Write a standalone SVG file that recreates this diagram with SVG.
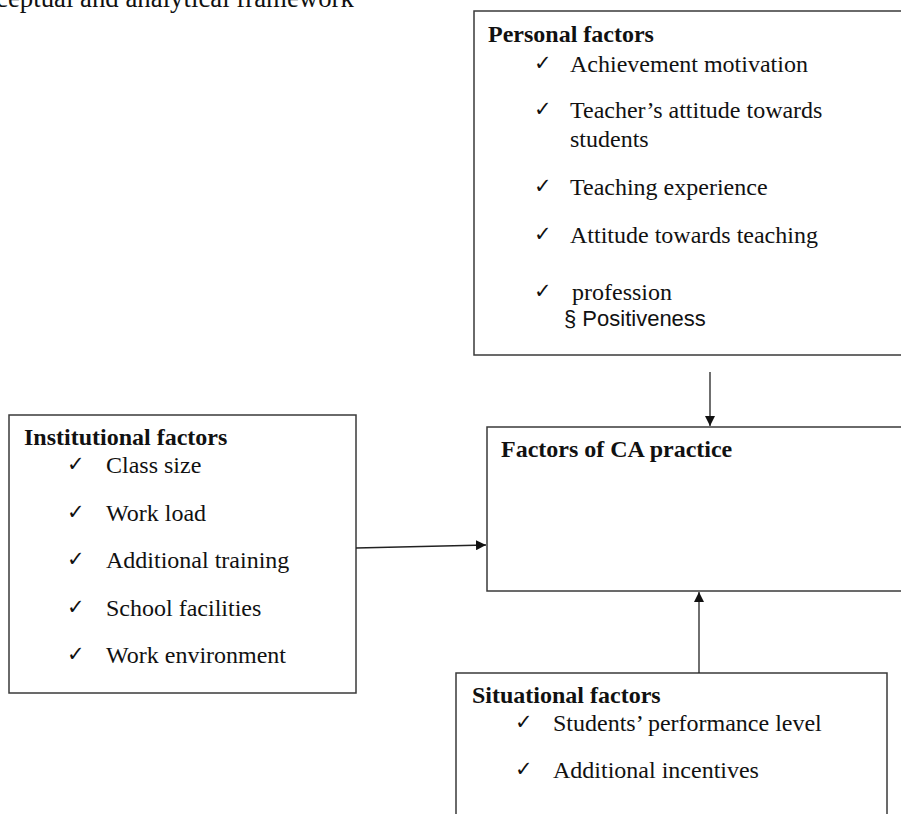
<svg xmlns="http://www.w3.org/2000/svg" width="901" height="814" viewBox="0 0 901 814">
<defs>
<marker id="arr" viewBox="0 0 10 10" refX="10" refY="5" markerWidth="10" markerHeight="10" markerUnits="userSpaceOnUse" orient="auto">
<path d="M0,0 L10,5 L0,10 z" fill="#111"/>
</marker>
<style>
.box{fill:#fff;stroke:#3a3a3a;stroke-width:1.5}
.t{font-family:"Liberation Serif","Times New Roman",serif;font-size:24px;fill:#111}
.h{font-family:"Liberation Serif","Times New Roman",serif;font-size:24px;font-weight:bold;fill:#111}
.c{font-family:"DejaVu Sans",sans-serif;font-size:21px;fill:#111}
.s{font-family:"Liberation Sans",Arial,sans-serif;font-size:22px;fill:#111}
.ln{stroke:#222;stroke-width:1.3;fill:none}
</style>
</defs>
<rect width="901" height="814" fill="#fff"/>
<text class="t" x="-4" y="7" style="font-size:26.8px">ceptual and analytical framework</text>

<g id="personal">
<rect class="box" x="474" y="11" width="440" height="344"/>
<text class="h" x="488" y="42">Personal factors</text>
<text class="c" x="534" y="70">✓</text><text class="t" x="570" y="72">Achievement motivation</text>
<text class="c" x="534" y="116">✓</text><text class="t" x="570" y="118">Teacher’s attitude towards</text>
<text class="t" x="570" y="147">students</text>
<text class="c" x="534" y="193">✓</text><text class="t" x="570" y="195">Teaching experience</text>
<text class="c" x="534" y="241">✓</text><text class="t" x="570" y="243">Attitude towards teaching</text>
<text class="c" x="534" y="298">✓</text><text class="t" x="572" y="300">profession</text>
<text class="s" x="564" y="326">§ Positiveness</text>
</g>

<g id="institutional">
<rect class="box" x="9" y="415" width="347" height="278"/>
<text class="h" x="24" y="445">Institutional factors</text>
<text class="c" x="67" y="471">✓</text><text class="t" x="106" y="473">Class size</text>
<text class="c" x="67" y="519">✓</text><text class="t" x="106" y="521">Work load</text>
<text class="c" x="67" y="566">✓</text><text class="t" x="106" y="568">Additional training</text>
<text class="c" x="67" y="614">✓</text><text class="t" x="106" y="616">School facilities</text>
<text class="c" x="67" y="661">✓</text><text class="t" x="106" y="663">Work environment</text>
</g>

<g id="ca-practice">
<rect class="box" x="487" y="427" width="430" height="164"/>
<text class="h" x="501" y="457">Factors of CA practice</text>
</g>

<g id="situational">
<rect class="box" x="456" y="673" width="431" height="160"/>
<text class="h" x="472" y="703">Situational factors</text>
<text class="c" x="515" y="729">✓</text><text class="t" x="553" y="731">Students’ performance level</text>
<text class="c" x="515" y="776">✓</text><text class="t" x="553" y="778">Additional incentives</text>
</g>

<g id="connectors">
<line class="ln" x1="710" y1="372" x2="710" y2="426" marker-end="url(#arr)"/>
<line class="ln" x1="356" y1="548" x2="486" y2="545" marker-end="url(#arr)"/>
<line class="ln" x1="699" y1="673" x2="699" y2="592" marker-end="url(#arr)"/>
</g>
</svg>
